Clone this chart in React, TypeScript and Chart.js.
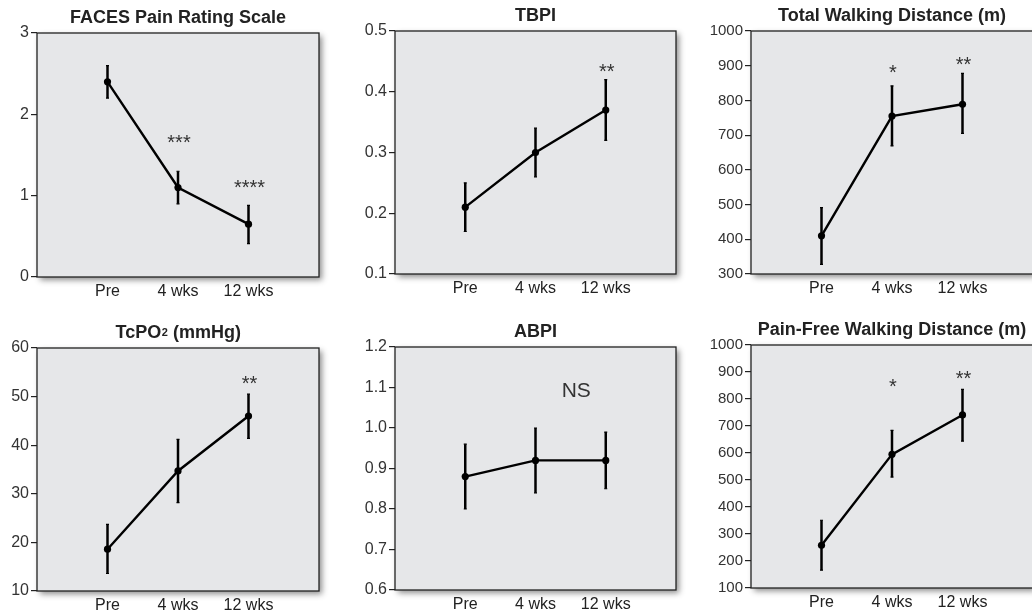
import React, { useEffect, useRef } from "react";
import { Chart, registerables } from "chart.js";

Chart.register(...registerables);

// ---------- data ----------
const categories = ["Pre", "4 wks", "12 wks"];

const facesTitle = "FACES Pain Rating Scale";
const facesTickLabels = ["0", "1", "2", "3"];
const facesMean = [2.4, 1.1, 0.65];
const facesLow = [2.2, 0.9, 0.41];
const facesHigh = [2.6, 1.3, 0.88];
const facesMarks = ["", "***", "****"];
const facesMarkY = [0, 1.71, 1.16];

const tbpiTitle = "TBPI";
const tbpiTickLabels = ["0.1", "0.2", "0.3", "0.4", "0.5"];
const tbpiMean = [0.21, 0.3, 0.37];
const tbpiLow = [0.17, 0.26, 0.32];
const tbpiHigh = [0.25, 0.34, 0.42];
const tbpiMarks = ["", "", "**"];
const tbpiMarkY = [0, 0, 0.44];

const twdTitle = "Total Walking Distance (m)";
const twdTickLabels = ["300", "400", "500", "600", "700", "800", "900", "1000"];
const twdMean = [410, 755, 789];
const twdLow = [328, 669, 705];
const twdHigh = [491, 842, 878];
const twdMarks = ["", "*", "**"];
const twdMarkY = [0, 893, 917];

const tcpoTitle = "TcPO2 (mmHg)";
const tcpoTickLabels = ["10", "20", "30", "40", "50", "60"];
const tcpoMean = [18.6, 34.7, 46];
const tcpoLow = [13.6, 28.2, 41.4];
const tcpoHigh = [23.7, 41.2, 50.5];
const tcpoMarks = ["", "", "**"];
const tcpoMarkY = [0, 0, 53.7];

const abpiTitle = "ABPI";
const abpiTickLabels = ["0.6", "0.7", "0.8", "0.9", "1.0", "1.1", "1.2"];
const abpiMean = [0.88, 0.92, 0.92];
const abpiLow = [0.8, 0.84, 0.85];
const abpiHigh = [0.96, 1.0, 0.99];
const abpiNote = "NS";
const abpiNoteX = 2.58;
const abpiNoteY = 1.09;

const pfwdTitle = "Pain-Free Walking Distance (m)";
const pfwdTickLabels = ["100", "200", "300", "400", "500", "600", "700", "800", "900", "1000"];
const pfwdMean = [258, 595, 741];
const pfwdLow = [166, 511, 644];
const pfwdHigh = [351, 684, 836];
const pfwdMarks = ["", "*", "**"];
const pfwdMarkY = [0, 863, 891];

// ---------- layout (positions only) ----------
const FONT = '"Liberation Sans", Arial, sans-serif';

type Geo = { x0: number; y0: number; w: number; h: number; left: number; top: number; right: number; bottom: number; tickSize: number };

const geos: Geo[] = [
  { x0: 0, y0: 0, w: 344, h: 306, left: 37, top: 33, right: 319, bottom: 277, tickSize: 16 },
  { x0: 344, y0: 0, w: 344, h: 306, left: 395, top: 31, right: 676, bottom: 274, tickSize: 16 },
  { x0: 688, y0: 0, w: 350, h: 306, left: 751, top: 31, right: 1033, bottom: 274, tickSize: 15 },
  { x0: 0, y0: 306, w: 344, h: 306, left: 37, top: 348, right: 319, bottom: 591, tickSize: 16 },
  { x0: 344, y0: 306, w: 344, h: 306, left: 395, top: 347, right: 676, bottom: 590, tickSize: 16 },
  { x0: 688, y0: 306, w: 350, h: 306, left: 751, top: 345, right: 1033, bottom: 588, tickSize: 15 },
];

type Panel = {
  title: string;
  tickLabels: string[];
  mean: number[];
  low: number[];
  high: number[];
  marks?: string[];
  markY?: number[];
  note?: { text: string; x: number; y: number };
};

const panels: Panel[] = [
  { title: facesTitle, tickLabels: facesTickLabels, mean: facesMean, low: facesLow, high: facesHigh, marks: facesMarks, markY: facesMarkY },
  { title: tbpiTitle, tickLabels: tbpiTickLabels, mean: tbpiMean, low: tbpiLow, high: tbpiHigh, marks: tbpiMarks, markY: tbpiMarkY },
  { title: twdTitle, tickLabels: twdTickLabels, mean: twdMean, low: twdLow, high: twdHigh, marks: twdMarks, markY: twdMarkY },
  { title: tcpoTitle, tickLabels: tcpoTickLabels, mean: tcpoMean, low: tcpoLow, high: tcpoHigh, marks: tcpoMarks, markY: tcpoMarkY },
  { title: abpiTitle, tickLabels: abpiTickLabels, mean: abpiMean, low: abpiLow, high: abpiHigh, note: { text: abpiNote, x: abpiNoteX, y: abpiNoteY } },
  { title: pfwdTitle, tickLabels: pfwdTickLabels, mean: pfwdMean, low: pfwdLow, high: pfwdHigh, marks: pfwdMarks, markY: pfwdMarkY },
];

function drawTitle(ctx: CanvasRenderingContext2D, title: string, cx: number, baseline: number) {
  ctx.save();
  ctx.fillStyle = "#222";
  ctx.textBaseline = "alphabetic";
  const big = `bold 18px ${FONT}`;
  const small = `bold 11px ${FONT}`;
  const m = title.match(/^(TcPO)(\d)( .*)$/);
  if (m) {
    ctx.font = big;
    const w1 = ctx.measureText(m[1]).width;
    const w3 = ctx.measureText(m[3]).width;
    ctx.font = small;
    const w2 = ctx.measureText(m[2]).width;
    let x = cx - (w1 + w2 + w3) / 2;
    ctx.textAlign = "left";
    ctx.font = big;
    ctx.fillText(m[1], x, baseline);
    x += w1 + 0.5;
    ctx.font = small;
    ctx.fillText(m[2], x, baseline - 2);
    x += w2;
    ctx.font = big;
    ctx.fillText(m[3], x, baseline);
  } else {
    ctx.font = big;
    ctx.textAlign = "center";
    ctx.fillText(title, cx, baseline);
  }
  ctx.restore();
}

function makeChart(canvas: HTMLCanvasElement, p: Panel, g: Geo) {
  const yVals = p.tickLabels.map(Number);
  const padTop = g.top - g.y0;
  const padRight = g.x0 + g.w - g.right;
  const yW = g.left - g.x0;
  const xH = g.y0 + g.h - g.bottom;

  const deco = {
    id: "deco",
    beforeDraw(chart: any) {
      const { ctx, chartArea: a } = chart;
      ctx.save();
      ctx.shadowColor = "rgba(0,0,0,0.45)";
      ctx.shadowBlur = 6;
      ctx.shadowOffsetX = 3;
      ctx.shadowOffsetY = 3;
      ctx.fillStyle = "#e6e7e9";
      ctx.fillRect(a.left, a.top, a.right - a.left, a.bottom - a.top);
      ctx.restore();
    },
    beforeDatasetsDraw(chart: any) {
      const { ctx, chartArea: a, scales } = chart;
      ctx.save();
      ctx.strokeStyle = "#222";
      ctx.lineWidth = 1.3;
      ctx.strokeRect(a.left, a.top, a.right - a.left, a.bottom - a.top);
      // error bars
      ctx.strokeStyle = "#000";
      ctx.lineCap = "butt";
      p.mean.forEach((_, i) => {
        const x = scales.x.getPixelForValue(i + 1);
        const y1 = scales.y.getPixelForValue(p.low[i]);
        const y2 = scales.y.getPixelForValue(p.high[i]);
        ctx.lineWidth = 2.5;
        ctx.beginPath();
        ctx.moveTo(x, y1);
        ctx.lineTo(x, y2);
        ctx.stroke();
        ctx.lineWidth = 1.2;
        ctx.beginPath();
        ctx.moveTo(x - 1.5, y1);
        ctx.lineTo(x + 1.5, y1);
        ctx.moveTo(x - 1.5, y2);
        ctx.lineTo(x + 1.5, y2);
        ctx.stroke();
      });
      ctx.restore();
    },
    afterDraw(chart: any) {
      const { ctx, chartArea: a, scales } = chart;
      drawTitle(ctx, p.title, (a.left + a.right) / 2, a.top - 10);
      ctx.save();
      ctx.fillStyle = "#333";
      ctx.textAlign = "center";
      ctx.textBaseline = "alphabetic";
      if (p.marks && p.markY) {
        ctx.font = `20px ${FONT}`;
        p.marks.forEach((mk, i) => {
          if (!mk) return;
          const x = scales.x.getPixelForValue(i + 1);
          const y = scales.y.getPixelForValue(p.markY![i]);
          ctx.fillText(mk, x + 1, y + 11);
        });
      }
      if (p.note) {
        ctx.font = `21px ${FONT}`;
        ctx.textBaseline = "middle";
        ctx.fillText(p.note.text, scales.x.getPixelForValue(p.note.x), scales.y.getPixelForValue(p.note.y));
      }
      ctx.restore();
    },
  };

  return new Chart(canvas, {
    type: "line",
    data: {
      datasets: [
        {
          data: p.mean.map((v, i) => ({ x: i + 1, y: v })),
          borderColor: "#000",
          backgroundColor: "#000",
          borderWidth: 2.4,
          pointRadius: 3.6,
          pointBorderWidth: 0,
          pointBackgroundColor: "#000",
          tension: 0,
        },
      ],
    },
    options: {
      animation: false,
      responsive: false,
      maintainAspectRatio: false,
      devicePixelRatio: 1,
      events: [],
      layout: { padding: { top: padTop, right: padRight, left: 0, bottom: 0 } },
      plugins: { legend: { display: false }, tooltip: { enabled: false }, title: { display: false } },
      scales: {
        x: {
          type: "linear",
          min: 0,
          max: categories.length + 1,
          afterBuildTicks: (s: any) => {
            s.ticks = categories.map((_, i) => ({ value: i + 1 }));
          },
          afterFit: (s: any) => {
            s.height = xH;
          },
          ticks: {
            autoSkip: false,
            maxRotation: 0,
            color: "#222",
            padding: 5,
            font: { size: 16, family: FONT },
            callback: (v: any) => categories[Number(v) - 1] ?? "",
          },
          grid: { display: false, drawTicks: false },
          border: { display: false },
        },
        y: {
          type: "linear",
          min: yVals[0],
          max: yVals[yVals.length - 1],
          afterBuildTicks: (s: any) => {
            s.ticks = yVals.map((v) => ({ value: v }));
          },
          afterFit: (s: any) => {
            s.width = yW;
          },
          ticks: {
            autoSkip: false,
            color: "#333",
            padding: 2,
            font: { size: g.tickSize, family: FONT },
            callback: (_v: any, i: number) => p.tickLabels[i],
          },
          grid: { drawOnChartArea: false, drawTicks: true, tickLength: 6, color: "#222", lineWidth: 1.2 },
          border: { display: false },
        },
      },
    },
    plugins: [deco],
  });
}

function PanelChart({ p, g }: { p: Panel; g: Geo }) {
  const ref = useRef<HTMLCanvasElement>(null);
  useEffect(() => {
    if (!ref.current) return;
    const c = makeChart(ref.current, p, g);
    return () => c.destroy();
  }, []);
  return (
    <canvas
      ref={ref}
      width={g.w}
      height={g.h}
      style={{ position: "absolute", left: g.x0, top: g.y0, width: g.w, height: g.h }}
    />
  );
}

export default function App() {
  return (
    <div
      style={{
        position: "fixed",
        left: 0,
        top: 0,
        width: 1032,
        height: 612,
        overflow: "hidden",
        background: "#fff",
      }}
    >
      {panels.map((p, i) => (
        <PanelChart key={i} p={p} g={geos[i]} />
      ))}
    </div>
  );
}
